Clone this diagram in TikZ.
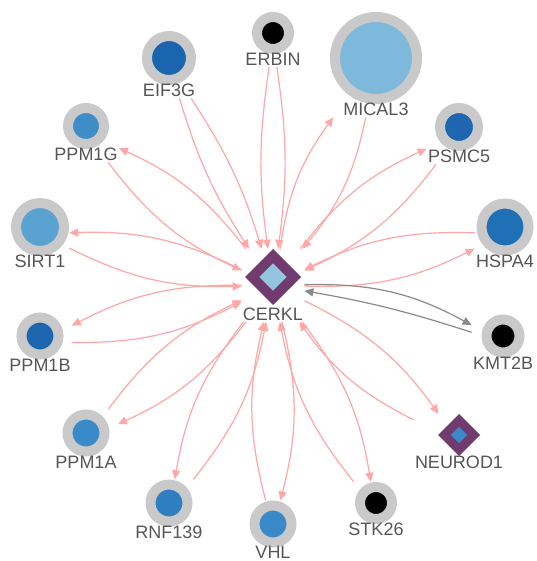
\documentclass[tikz,border=0pt]{standalone}
\usepackage{fontspec}
\setmainfont{Liberation Sans}
\usetikzlibrary{positioning,fit,shapes.geometric,arrows.meta}

\definecolor{ring}{HTML}{C9C9C9}
\definecolor{ppi}{HTML}{FFA6A6}
\definecolor{coexp}{HTML}{8A8A8A}
\definecolor{hub}{HTML}{723B70}
\definecolor{hubin}{HTML}{93C5E0}
\definecolor{txt}{HTML}{555555}
% node fills
\definecolor{blueA}{HTML}{1A65AD}
\definecolor{blueB}{HTML}{7EB8DA}
\definecolor{blueC}{HTML}{3E8DC8}
\definecolor{blueD}{HTML}{1E66AF}
\definecolor{blueE}{HTML}{5AA2D2}
\definecolor{blueF}{HTML}{2070B6}
\definecolor{blueG}{HTML}{3A89C8}
\definecolor{blueH}{HTML}{2E7EC1}

\begin{document}
\begin{tikzpicture}[x=1pt, y=-1pt, >={Triangle[length=9pt,width=8pt]},
  gene/.style={circle, draw=ring, line width=10pt, inner sep=0pt},
  query/.style={diamond, aspect=1, draw=hub, line join=miter, inner sep=0pt},
  ttl/.style={text=txt, inner sep=1pt, font=\fontsize{18}{18}\selectfont},
  obj/.style={inner sep=0pt},
  link/.style={draw=ppi, line width=1.2pt, ->},
  glink/.style={draw=coexp, line width=1.2pt, ->}]

  \useasboundingbox (0,0) rectangle (536,561);

  % query genes
  \node[query, line width=10pt, fill=hubin, minimum size=46pt] (d-cerkl) at (273,277) {};
  \node[ttl, below=1.5pt of d-cerkl] (ttl-cerkl) {CERKL};
  \node[obj, fit=(d-cerkl)(ttl-cerkl)] (cerkl) {};

  \node[query, line width=9pt, fill=blueG, minimum size=33pt] (d-neurod1) at (459,435) {};
  \node[ttl, below=-1pt of d-neurod1] (ttl-neurod1) {NEUROD1};
  \node[obj, fit=(d-neurod1)(ttl-neurod1)] (neurod1) {};

  % related genes
  \node[gene, fill=black, minimum size=32pt] (c-erbin) at (273,33) {};
  \node[ttl, below=-2pt of c-erbin] (ttl-erbin) {ERBIN};
  \node[obj, fit=(c-erbin)(ttl-erbin)] (erbin) {};

  \node[gene, fill=blueA, minimum size=44pt] (c-eif3g) at (169,58) {};
  \node[ttl, below=-2pt of c-eif3g] (ttl-eif3g) {EIF3G};
  \node[obj, fit=(c-eif3g)(ttl-eif3g)] (eif3g) {};

  \node[gene, fill=blueB, minimum size=82pt] (c-mical3) at (376,58) {};
  \node[ttl, below=-2pt of c-mical3] (ttl-mical3) {MICAL3};
  \node[obj, fit=(c-mical3)(ttl-mical3)] (mical3) {};

  \node[gene, fill=blueC, minimum size=36pt] (c-ppm1g) at (86,126) {};
  \node[ttl, below=-2pt of c-ppm1g] (ttl-ppm1g) {PPM1G};
  \node[obj, fit=(c-ppm1g)(ttl-ppm1g)] (ppm1g) {};

  \node[gene, fill=blueD, minimum size=38pt] (c-psmc5) at (459,127) {};
  \node[ttl, below=-2pt of c-psmc5] (ttl-psmc5) {PSMC5};
  \node[obj, fit=(c-psmc5)(ttl-psmc5)] (psmc5) {};

  \node[gene, fill=blueE, minimum size=48pt] (c-sirt1) at (40,227) {};
  \node[ttl, below=-2pt of c-sirt1] (ttl-sirt1) {SIRT1};
  \node[obj, fit=(c-sirt1)(ttl-sirt1)] (sirt1) {};

  \node[gene, fill=blueF, minimum size=47pt] (c-hspa4) at (505,227) {};
  \node[ttl, below=-2pt of c-hspa4] (ttl-hspa4) {HSPA4};
  \node[obj, fit=(c-hspa4)(ttl-hspa4)] (hspa4) {};

  \node[gene, fill=blueD, minimum size=37pt] (c-ppm1b) at (40,336) {};
  \node[ttl, below=-2pt of c-ppm1b] (ttl-ppm1b) {PPM1B};
  \node[obj, fit=(c-ppm1b)(ttl-ppm1b)] (ppm1b) {};

  \node[gene, fill=black, minimum size=33pt] (c-kmt2b) at (503,336) {};
  \node[ttl, below=-2pt of c-kmt2b] (ttl-kmt2b) {KMT2B};
  \node[obj, fit=(c-kmt2b)(ttl-kmt2b)] (kmt2b) {};

  \node[gene, fill=blueG, minimum size=37pt] (c-ppm1a) at (86,433) {};
  \node[ttl, below=-2pt of c-ppm1a] (ttl-ppm1a) {PPM1A};
  \node[obj, fit=(c-ppm1a)(ttl-ppm1a)] (ppm1a) {};

  \node[gene, fill=blueH, minimum size=37pt] (c-rnf139) at (169,503) {};
  \node[ttl, below=-2pt of c-rnf139] (ttl-rnf139) {RNF139};
  \node[obj, fit=(c-rnf139)(ttl-rnf139)] (rnf139) {};

  \node[gene, fill=blueG, minimum size=37pt] (c-vhl) at (273,524) {};
  \node[ttl, below=-3pt of c-vhl] (ttl-vhl) {VHL};
  \node[obj, fit=(c-vhl)(ttl-vhl)] (vhl) {};

  \node[gene, fill=black, minimum size=32pt] (c-stk26) at (376,503) {};
  \node[ttl, below=-2pt of c-stk26] (ttl-stk26) {STK26};
  \node[obj, fit=(c-stk26)(ttl-stk26)] (stk26) {};

  % interactions
  \draw[link] (erbin) to[bend left=8] (cerkl);
  \draw[link] (erbin) to[bend right=8] (cerkl);
  \draw[link] (eif3g) to[bend left=8] (cerkl);
  \draw[link] (eif3g) to[bend right=8] (cerkl);

  \draw[link] (cerkl) to[bend right=14] (ppm1g);
  \draw[link] (ppm1g) to[bend right=14] (cerkl);
  \draw[link] (cerkl) to[bend right=14] (sirt1);
  \draw[link] (sirt1) to[bend right=14] (cerkl);
  \draw[link] (cerkl) to[bend right=14] (ppm1b);
  \draw[link] (ppm1b) to[bend right=14] (cerkl);
  \draw[link] (cerkl) to[bend right=14] (hspa4);
  \draw[link] (hspa4) to[bend right=14] (cerkl);
  \draw[link] (cerkl) to[bend right=14] (rnf139);
  \draw[link] (rnf139) to[bend right=14] (cerkl);

  \draw[link] (cerkl) to[bend left=14] (mical3);
  \draw[link] (mical3) to[bend left=14] (cerkl);
  \draw[link] (cerkl) to[bend left=14] (psmc5);
  \draw[link] (psmc5) to[bend left=14] (cerkl);
  \draw[link] (cerkl) to[bend left=14] (ppm1a);
  \draw[link] (ppm1a) to[bend left=14] (cerkl);
  \draw[link] (cerkl) to[bend left=14] (vhl);
  \draw[link] (vhl) to[bend left=14] (cerkl);
  \draw[link] (cerkl) to[bend left=14] (stk26);
  \draw[link] (stk26) to[bend left=14] (cerkl);
  \draw[link] (cerkl) to[bend left=14] (neurod1);
  \draw[link] (neurod1) to[bend left=14] (cerkl);

  \draw[glink] (cerkl) to[bend left=15] (kmt2b);
  \draw[glink] (kmt2b) to[bend right=4] (cerkl);
\end{tikzpicture}
\end{document}
